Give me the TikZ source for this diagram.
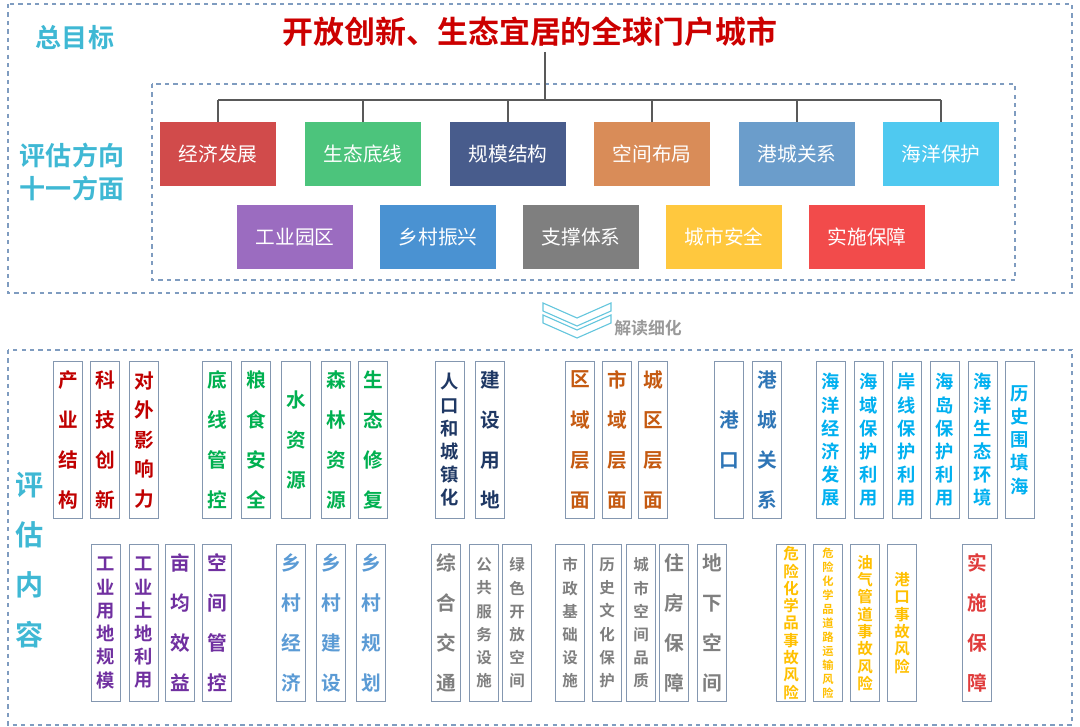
\documentclass[tikz,border=0pt]{standalone}
\usepackage{fontspec}
\setmainfont{Noto Sans CJK SC}[BoldFont={Noto Sans CJK SC Bold}]
\usetikzlibrary{positioning}
\definecolor{frame}{HTML}{7F9CC0}
\definecolor{teal}{HTML}{3FB8D4}
\definecolor{cellline}{HTML}{8497B0}
\begin{document}
\begin{tikzpicture}[x=0.025cm,y=-0.025cm]
\tikzset{dash box/.style={draw=frame, dashed, thick},
  dir/.style={minimum width=2.9cm, minimum height=1.6cm, text=white, font=\fontsize{14}{16}\selectfont},
  cell/.style={draw=cellline, semithick, fill=white, minimum width=0.72cm, minimum height=3.925cm, inner sep=0pt, align=center},
  big/.style={font=\fontsize{14}{28.5}\selectfont\bfseries},
  mid/.style={font=\fontsize{14}{21}\selectfont\bfseries},
  tight/.style={font=\fontsize{13}{16.5}\selectfont\bfseries},
  small/.style={font=\fontsize{11}{16.5}\selectfont\bfseries},
  tiny/.style={font=\fontsize{11}{12.3}\selectfont\bfseries},
  micro/.style={font=\fontsize{8}{10}\selectfont\bfseries}}
\useasboundingbox (0,0) rectangle (1080,727);

% Frames
\draw[dash box] (8,4) rectangle (1072,293);
\draw[dash box] (152,84) rectangle (1015,280);
\draw[dash box] (8,350) rectangle (1072,725);

% Headings
\node[text=teal, font=\fontsize{18.5}{20}\selectfont\bfseries] (goal) at (75,38) {总目标};
\node[text=red!80!black, font=\fontsize{22}{24}\selectfont\bfseries] (title) at (530,32) {开放创新、生态宜居的全球门户城市};
\node[text=teal, font=\fontsize{18.5}{24}\selectfont\bfseries, align=center] (dirs) at (72,172) {评估方向\\十一方面};
\node[text=teal, font=\fontsize{20}{35.5}\selectfont\bfseries, align=center] (content) at (30,560) {评\\估\\内\\容};

% Directions
\foreach \x/\y/\t/\c [count=\i] in {
  218/154/经济发展/D14B4B, 363/154/生态底线/4CC47C, 508/154/规模结构/485C8C,
  652/154/空间布局/D98C58, 797/154/港城关系/6B9DCB, 941/154/海洋保护/4FC9F0,
  295/237/工业园区/9B6CC0, 438/237/乡村振兴/4A92D2, 581/237/支撑体系/7F7F7F,
  724/237/城市安全/FFC83E, 867/237/实施保障/F24B4B}
  {\definecolor{cc}{HTML}{\c}
   \node[dir, fill=cc] (d\i) at (\x,\y) {\t};}

% Tree
\coordinate (top) at (545,52);
\coordinate (hub) at (545,100);
\draw[gray!70!black, thick] (top) -- (hub);
\draw[gray!70!black, thick] (d1 |- hub) -- (d6 |- hub);
\foreach \i in {1,...,6}
  \draw[gray!70!black, thick] (d\i |- hub) -- (d\i.north);

% Chevrons
\draw[teal!80, thick] (543,303) -- (577,318) -- (611,303) -- (611,311) -- (577,326) -- (543,311) -- cycle;
\draw[teal!80, thick] (543,315) -- (577,330) -- (611,315) -- (611,323) -- (577,338) -- (543,323) -- cycle;
\node[text=gray!80, font=\fontsize{12}{14}\selectfont\bfseries] (read) at (648,328) {解读细化};

% Contents, upper row
\foreach \x/\t/\c/\s [count=\i] in {
  68/{产\\业\\结\\构}/C00000/big, 105/{科\\技\\创\\新}/C00000/big, 144/{对\\外\\影\\响\\力}/C00000/mid,
  217/{底\\线\\管\\控}/00B050/big, 256/{粮\\食\\安\\全}/00B050/big, 296/{水\\资\\源}/00B050/big,
  336/{森\\林\\资\\源}/00B050/big, 373/{生\\态\\修\\复}/00B050/big,
  450/{人\\口\\和\\城\\镇\\化}/1F3864/tight, 490/{建\\设\\用\\地}/1F3864/big,
  580/{区\\域\\层\\面}/C55A11/big, 617/{市\\域\\层\\面}/C55A11/big, 653/{城\\区\\层\\面}/C55A11/big,
  729/{港\\口}/2E75B6/big, 767/{港\\城\\关\\系}/2E75B6/big,
  831/{海\\洋\\经\\济\\发\\展}/00B0F0/tight, 869/{海\\域\\保\\护\\利\\用}/00B0F0/tight,
  907/{岸\\线\\保\\护\\利\\用}/00B0F0/tight, 945/{海\\岛\\保\\护\\利\\用}/00B0F0/tight,
  983/{海\\洋\\生\\态\\环\\境}/00B0F0/tight, 1020/{历\\史\\围\\填\\海}/00B0F0/tight}
  {\definecolor{cc}{HTML}{\c}
   \node[cell, \s, text=cc] (u\i) at (\x,440) {\t};}

% Contents, lower row
\foreach \x/\t/\c/\s [count=\i] in {
  106/{工\\业\\用\\地\\规\\模}/7030A0/tight, 144/{工\\业\\土\\地\\利\\用}/7030A0/tight,
  180/{亩\\均\\效\\益}/7030A0/big, 217/{空\\间\\管\\控}/7030A0/big,
  291/{乡\\村\\经\\济}/5B9BD5/big, 331/{乡\\村\\建\\设}/5B9BD5/big, 371/{乡\\村\\规\\划}/5B9BD5/big,
  446/{综\\合\\交\\通}/7F7F7F/big, 484/{公\\共\\服\\务\\设\\施}/7F7F7F/small,
  517/{绿\\色\\开\\放\\空\\间}/7F7F7F/small, 570/{市\\政\\基\\础\\设\\施}/7F7F7F/small,
  607/{历\\史\\文\\化\\保\\护}/7F7F7F/small, 641/{城\\市\\空\\间\\品\\质}/7F7F7F/small,
  674/{住\\房\\保\\障}/7F7F7F/big, 712/{地\\下\\空\\间}/7F7F7F/big,
  791/{危\\险\\化\\学\\品\\事\\故\\风\\险}/FFC000/tiny,
  828/{危\\险\\化\\学\\品\\道\\路\\运\\输\\风\\险}/FFC000/micro,
  865/{油\\气\\管\\道\\事\\故\\风\\险}/FFC000/tiny, 902/{港\\口\\事\\故\\风\\险}/FFC000/tiny,
  977/{实\\施\\保\\障}/E03C3C/big}
  {\definecolor{cc}{HTML}{\c}
   \node[cell, \s, text=cc] (l\i) at (\x,623) {\t};}
\end{tikzpicture}
\end{document}
